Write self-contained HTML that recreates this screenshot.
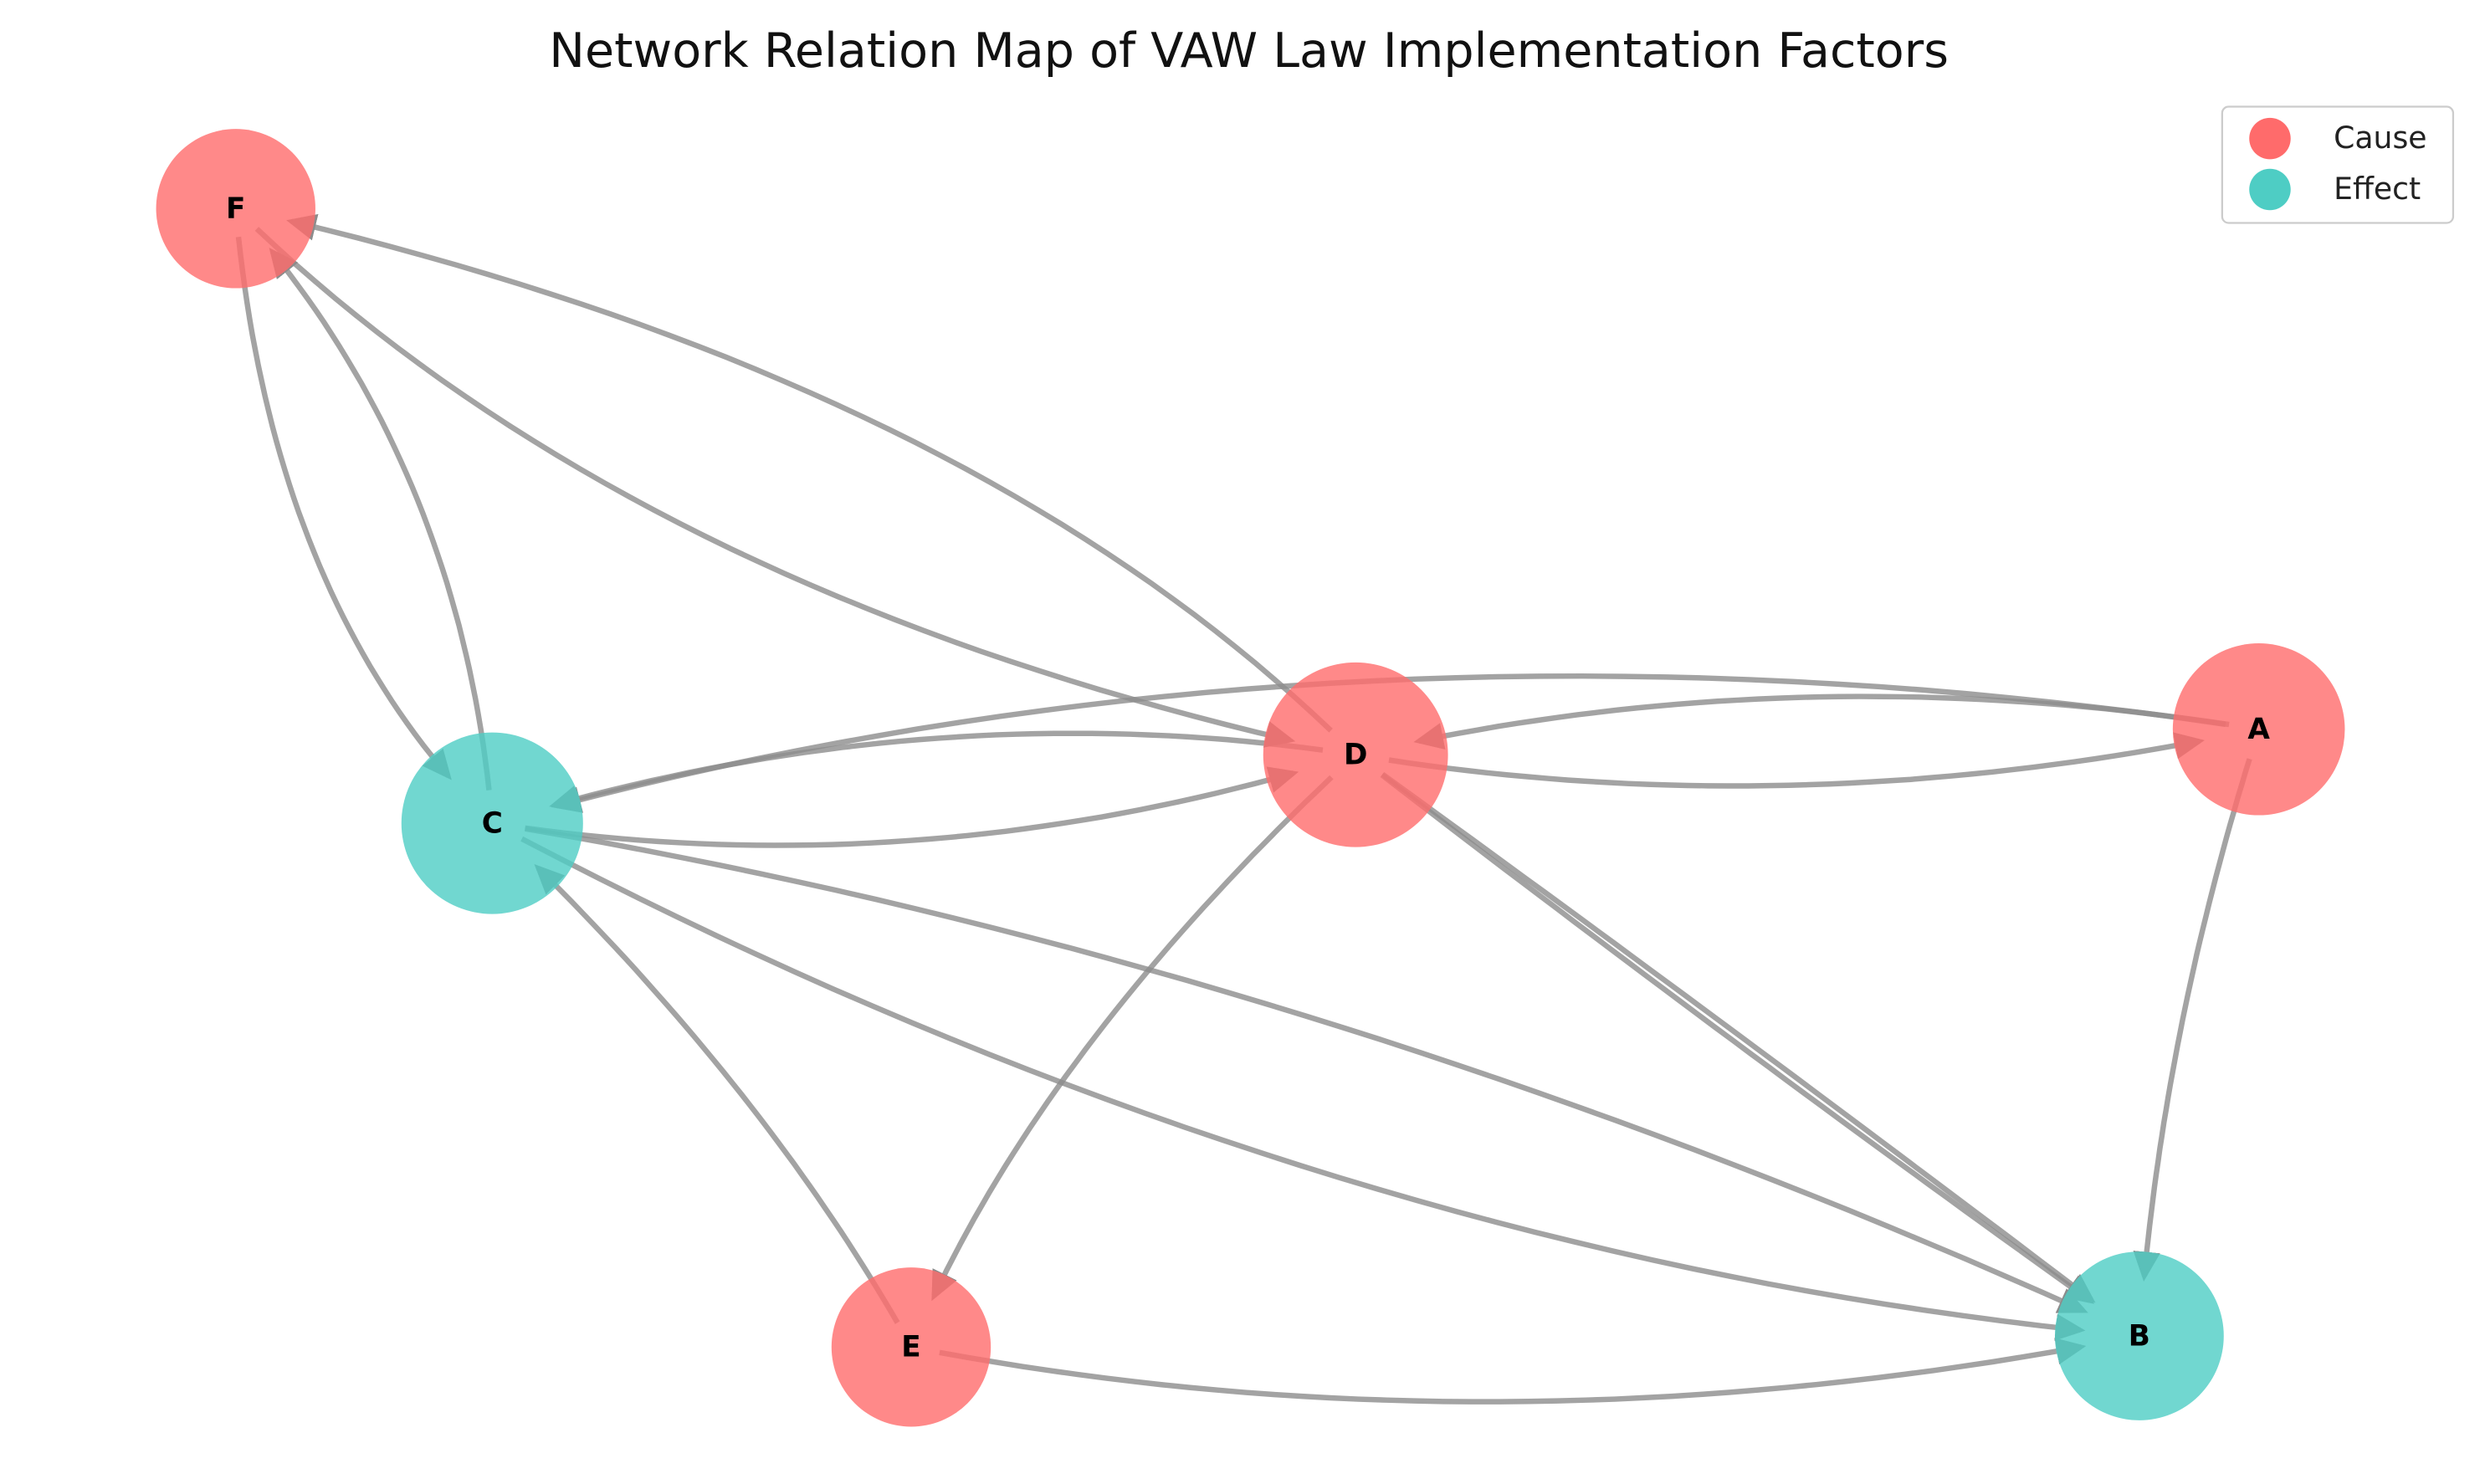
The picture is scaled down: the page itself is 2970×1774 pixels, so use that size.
<!DOCTYPE html>
<html><head><meta charset="utf-8"><style>
html,body{margin:0;padding:0;background:#fff;}
svg{display:block;}
</style></head><body>
<svg id="s" width="2970" height="1774" viewBox="0 0 1560 932" preserveAspectRatio="none" xmlns="http://www.w3.org/2000/svg">
<defs>
<marker id="ah" markerWidth="6" markerHeight="6" refX="4.5" refY="3" orient="auto" markerUnits="strokeWidth">
<path d="M0,0.5 L5.5,3 L0,5.5 Z" fill="#8c8c8c"/>
</marker>
</defs>
<rect width="1560" height="932" fill="#fff"/>
<text x="784" y="42" text-anchor="middle" font-family="DejaVu Sans, Liberation Sans, sans-serif" font-size="30" fill="#111">Network Relation Map of VAW Law Implementation Factors</text>
<g id="edges" fill="none" stroke="#8c8c8c" stroke-opacity="0.8" stroke-width="3.4"></g>
<g id="nodes"></g>
<g font-family="DejaVu Sans, Liberation Sans, sans-serif" font-size="19">
<rect x="1395" y="67" width="145" height="73" rx="4" fill="#fff" stroke="#ccc" stroke-width="1.2"/>
<circle cx="1425" cy="87" r="13" fill="#FF6B6B"/>
<text x="1465" y="93" fill="#222">Cause</text>
<circle cx="1425" cy="119" r="13" fill="#4ECDC4"/>
<text x="1465" y="125" fill="#222">Effect</text>
</g>
</svg>
<script>
var N={F:[148,131,50,'c'],C:[309,517,57,'e'],D:[851,474,58,'c'],A:[1418,458,54,'c'],E:[572,846,50,'c'],B:[1343,839,53,'e']};
var E=[['F','C',170,380],['C','F',290,290],['D','F',613,235],['F','D',400,378],['A','C',837,369],
['A','D',1126,410],['D','A',1126,520],['D','C',580,433],['C','D',580,559],['C','B',826,602],['C','B',826,792],
['D','B',1093,661],['D','B',1100,654],['A','B',1356,652],['D','E',650,660],['E','C',480,680],['E','B',943,918]];
function q(p0,c,p2,t){var u=1-t;return [u*u*p0[0]+2*u*t*c[0]+t*t*p2[0],u*u*p0[1]+2*u*t*c[1]+t*t*p2[1]];}
var ns='http://www.w3.org/2000/svg',g=document.getElementById('edges');
E.forEach(function(e){var s=N[e[0]],d=N[e[1]],p0=[s[0],s[1]],p2=[d[0],d[1]],c=[e[2],e[3]];
var t1=1;for(var t=1;t>0;t-=0.002){var p=q(p0,c,p2,t);if(Math.hypot(p[0]-p2[0],p[1]-p2[1])>=d[2]*0.7){t1=t;break;}}
var t0=0;for(var t=0;t<1;t+=0.002){var p=q(p0,c,p2,t);if(Math.hypot(p[0]-p0[0],p[1]-p0[1])>=s[2]*0.35){t0=t;break;}}
var pts=[];for(var i=0;i<=40;i++){var t=t0+(t1-t0)*i/40;pts.push(q(p0,c,p2,t).map(function(v){return v.toFixed(1)}).join(','));}
var pl=document.createElementNS(ns,'polyline');pl.setAttribute('points',pts.join(' '));pl.setAttribute('marker-end','url(#ah)');g.appendChild(pl);});
var ng=document.getElementById('nodes');
for(var k in N){var n=N[k];var ci=document.createElementNS(ns,'circle');ci.setAttribute('cx',n[0]);ci.setAttribute('cy',n[1]);ci.setAttribute('r',n[2]);
ci.setAttribute('fill',n[3]=='c'?'#FF6B6B':'#4ECDC4');ci.setAttribute('fill-opacity','0.8');ng.appendChild(ci);
var tx=document.createElementNS(ns,'text');tx.setAttribute('x',n[0]);tx.setAttribute('y',n[1]+6);tx.setAttribute('text-anchor','middle');
tx.setAttribute('font-family','DejaVu Sans, Liberation Sans, sans-serif');tx.setAttribute('font-weight','bold');tx.setAttribute('font-size','18');tx.textContent=k;ng.appendChild(tx);}
</script>
</body></html>
